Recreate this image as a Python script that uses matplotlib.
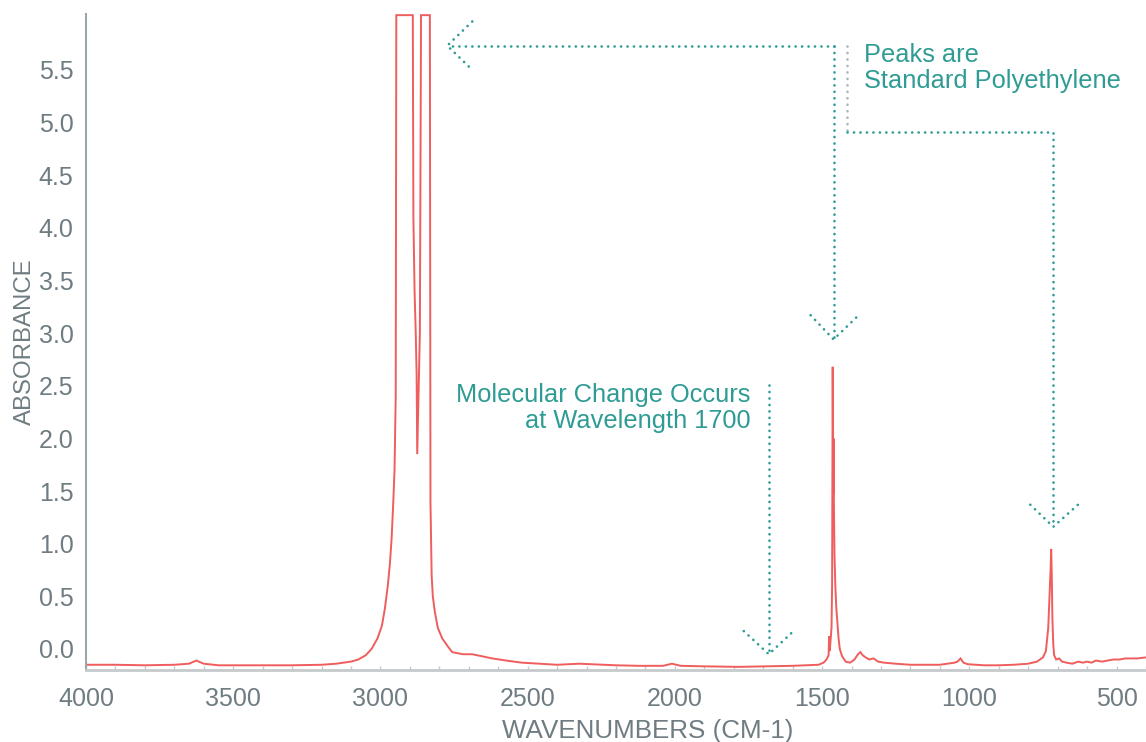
import matplotlib.pyplot as plt
from matplotlib.ticker import MultipleLocator

plt.rcParams['font.family'] = ['Liberation Sans', 'DejaVu Sans']

# spectrum (wavenumber, absorbance)
wavenumber = [
    4000, 3900, 3800, 3700, 3650, 3625, 3600, 3550, 3400, 3300, 3200, 3150,
    3100, 3075, 3050, 3030, 3010, 2995, 2985, 2975, 2968, 2962, 2957, 2952,
    2948, 2946, 2890, 2888, 2884, 2880, 2877, 2875, 2870, 2866, 2862, 2832,
    2830, 2826, 2822, 2815, 2805, 2790, 2770, 2756, 2720, 2688, 2654, 2620,
    2573, 2520, 2461, 2400, 2325, 2200, 2122, 2040, 2010, 1980, 1900, 1783,
    1700, 1600, 1512, 1495, 1485, 1478, 1476, 1474, 1468, 1466, 1464, 1463,
    1462, 1461, 1460, 1458, 1455, 1452, 1448, 1444, 1440, 1432, 1420, 1405,
    1390, 1378, 1370, 1362, 1352, 1340, 1325, 1310, 1290, 1250, 1200, 1150,
    1100, 1050, 1040, 1030, 1020, 1005, 950, 900, 850, 800, 770, 750, 740,
    732, 727, 724, 722, 720, 718, 715, 712, 705, 695, 685, 670, 650, 630, 615,
    600, 585, 570, 550, 530, 510, 490, 470, 450, 430, 400,
]
absorbance = [
    -0.15, -0.15, -0.155, -0.15, -0.14, -0.11, -0.14, -0.155, -0.155, -0.155, -0.15, -0.14,
    -0.12, -0.10, -0.06, 0.0, 0.10, 0.22, 0.38, 0.60, 0.80, 1.05, 1.35, 1.70,
    2.40, 6.02, 6.02, 4.10, 3.40, 3.00, 2.60, 1.85, 2.50, 3.00, 6.02, 6.02,
    1.40, 0.70, 0.50, 0.35, 0.20, 0.10, 0.02, -0.03, -0.05, -0.05, -0.07, -0.09,
    -0.11, -0.13, -0.14, -0.15, -0.14, -0.155, -0.16, -0.16, -0.14, -0.16, -0.165, -0.17,
    -0.165, -0.16, -0.15, -0.13, -0.10, -0.06, 0.12, -0.02, 0.20, 0.60, 2.68, 2.05,
    1.47, 2.00, 1.40, 0.90, 0.60, 0.40, 0.25, 0.10, 0.0, -0.07, -0.12, -0.13,
    -0.10, -0.05, -0.03, -0.06, -0.08, -0.10, -0.09, -0.12, -0.13, -0.14, -0.15, -0.15,
    -0.15, -0.13, -0.12, -0.09, -0.13, -0.145, -0.155, -0.155, -0.15, -0.14, -0.12, -0.08, -0.02,
    0.20, 0.55, 0.76, 0.95, 0.70, 0.30, 0.05, -0.06, -0.10, -0.09, -0.12, -0.13, -0.14, -0.12, -0.13,
    -0.12, -0.13, -0.11, -0.12, -0.11, -0.10, -0.10, -0.09, -0.09, -0.09, -0.08,
]

x_ticks = [4000, 3500, 3000, 2500, 2000, 1500, 1000, 500]
y_ticks = [0.0, 0.5, 1.0, 1.5, 2.0, 2.5, 3.0, 3.5, 4.0, 4.5, 5.0, 5.5]

teal = '#2e9c94'
grey_txt = '#6f7c82'
dots = (0, (0.05, 2.4))

fig = plt.figure(figsize=(11.46, 7.42), dpi=100)
ax = fig.add_axes([0.075, 0.097, 0.925, 0.884])

ax.plot(wavenumber, absorbance, color='#ef5d5d', lw=1.4, solid_joinstyle='miter')

ax.set_xlim(4000, 400)
ax.set_ylim(-0.20, 6.03)
ax.set_xticks(x_ticks)
ax.set_yticks(y_ticks)
ax.set_yticklabels([f'{v:.1f}' for v in y_ticks])
ax.xaxis.set_minor_locator(MultipleLocator(100))
ax.tick_params(axis='x', which='both', direction='in', length=3, width=1,
               color='#c5cacc', labelsize=18, labelcolor=grey_txt, pad=12)
ax.tick_params(axis='y', length=0, labelsize=18, labelcolor=grey_txt, pad=9)

for side in ['top', 'right']:
    ax.spines[side].set_visible(False)
ax.spines['left'].set_color('#9aa6ab')
ax.spines['left'].set_linewidth(1.5)
ax.spines['bottom'].set_color('#c5cacc')
ax.spines['bottom'].set_linewidth(2)

ax.set_xlabel('WAVENUMBERS (CM-1)', fontsize=18.7, color=grey_txt)
ax.xaxis.set_label_coords(0.530, -0.075)
ax.set_ylabel('ABSORBANCE', fontsize=17.3, color=grey_txt)
ax.yaxis.set_label_coords(-0.047, 0.5)


def dotted(xs, ys, color=teal):
    ax.plot(xs, ys, color=color, lw=1.9, linestyle=dots,
            dash_capstyle='round', solid_capstyle='round')


# arrow to the C-H stretch peaks
dotted([1461, 2773], [5.73, 5.73])
dotted([2688, 2773, 2688], [5.96, 5.73, 5.50])
# arrow to 1462
dotted([1461, 1461], [5.73, 2.94])
dotted([1539, 1461, 1376], [3.17, 2.94, 3.17])
# arrow to 720
dotted([1417, 1417], [5.73, 4.91], color='#a9b6ba')
dotted([1417, 715, 715], [4.91, 4.91, 1.16])
dotted([793, 715, 631], [1.37, 1.16, 1.37])
# arrow to 1700
dotted([1681, 1681], [2.51, -0.05])
dotted([1766, 1681, 1597], [0.17, -0.05, 0.17])

ax.text(1359, 5.76, 'Peaks are\nStandard Polyethylene', color=teal, fontsize=18.3,
        ha='left', va='top', linespacing=1.12)
ax.text(1742, 2.53, 'Molecular Change Occurs\nat Wavelength 1700', color=teal,
        fontsize=18.3, ha='right', va='top', multialignment='right', linespacing=1.12)

fig.savefig('out.png', dpi=100)
